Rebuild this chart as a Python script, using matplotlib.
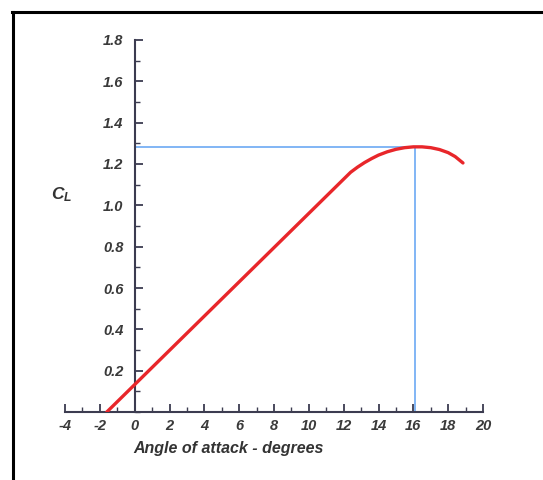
import matplotlib
matplotlib.use("Agg")
from matplotlib import pyplot as plt
from matplotlib.ticker import MultipleLocator
from matplotlib.lines import Line2D

plt.rcParams['font.family'] = ['Liberation Sans', 'DejaVu Sans']
plt.rcParams['mathtext.fontset'] = 'custom'
plt.rcParams['mathtext.it'] = 'Liberation Sans:italic:bold'
plt.rcParams['mathtext.bf'] = 'Liberation Sans:italic:bold'
plt.rcParams['mathtext.rm'] = 'Liberation Sans:bold'

# lift curve
alpha = [-1.6, 12.4, 12.8, 13.2, 13.6, 14.0, 14.5, 15.0, 15.5, 16.0,
         16.5, 17.0, 17.5, 18.0, 18.4, 18.85]
cl = [0.0, 1.16, 1.185, 1.207, 1.226, 1.243, 1.259, 1.271, 1.279, 1.283,
      1.283, 1.279, 1.27, 1.255, 1.236, 1.205]

stall_alpha = 16.1
cl_max = 1.283

x_ticks = [-4, -2, 0, 2, 4, 6, 8, 10, 12, 14, 16, 18, 20]
y_ticks = [0.2, 0.4, 0.6, 0.8, 1.0, 1.2, 1.4, 1.6, 1.8]

W, H = 543, 480
fig = plt.figure(figsize=(W / 100, H / 100), dpi=100)
ax = fig.add_axes([65 / W, (H - 412) / H, 418 / W, 372 / H])

axis_col = '#3c3c50'
text_col = '#3a3a3a'

ax.plot([0, stall_alpha], [cl_max, cl_max], color='#5fa2f2', lw=1.1, zorder=2)
ax.plot([stall_alpha, stall_alpha], [0, cl_max], color='#5fa2f2', lw=1.1, zorder=2)
ax.plot(alpha, cl, color='#e8262a', lw=2.4, solid_capstyle='round',
        solid_joinstyle='round', zorder=3)

ax.set_xlim(-4, 20)
ax.set_ylim(0, 1.8)

for s in ['top', 'right']:
    ax.spines[s].set_visible(False)
ax.spines['left'].set_position(('data', 0))
ax.spines['left'].set_color(axis_col)
ax.spines['bottom'].set_color(axis_col)
ax.spines['left'].set_linewidth(1.5)
ax.spines['bottom'].set_linewidth(1.5)

ax.set_xticks(x_ticks)
ax.set_yticks(y_ticks)
ax.xaxis.set_minor_locator(MultipleLocator(1))
ax.yaxis.set_minor_locator(MultipleLocator(0.1))
ax.set_xticklabels([str(v) for v in x_ticks])
ax.set_yticklabels([f'{v:.1f}' for v in y_ticks])

ax.tick_params(axis='both', which='both', direction='in', color=axis_col,
               labelcolor=text_col, labelsize=10.5)
ax.tick_params(axis='both', which='major', length=6, width=1.3)
ax.tick_params(axis='both', which='minor', length=3.5, width=1.0)
ax.tick_params(axis='x', which='major', pad=5)
ax.tick_params(axis='y', which='major', pad=8)
for lab in ax.get_xticklabels() + ax.get_yticklabels():
    lab.set_fontweight('bold')
    lab.set_fontstyle('italic')

fig.text(62 / W, 1 - 195 / H, r'$\mathbf{C}_{\mathbf{L}}$', fontsize=12.5,
         color='#333333', ha='center', va='center')
fig.text(229 / W, 1 - 448 / H, 'Angle of attack - degrees', fontsize=11.5,
         fontweight='bold', fontstyle='italic', color='#333333',
         ha='center', va='center')

# frame of the original screenshot (only top and left survive)
fig.add_artist(Line2D([12.5 / W, 12.5 / W], [0, 1 - 11.5 / H],
                      transform=fig.transFigure, color='black', lw=2.2))
fig.add_artist(Line2D([11.5 / W, 1], [1 - 12 / H, 1 - 12 / H],
                      transform=fig.transFigure, color='black', lw=2.2))

fig.savefig('out.png', dpi=100)
